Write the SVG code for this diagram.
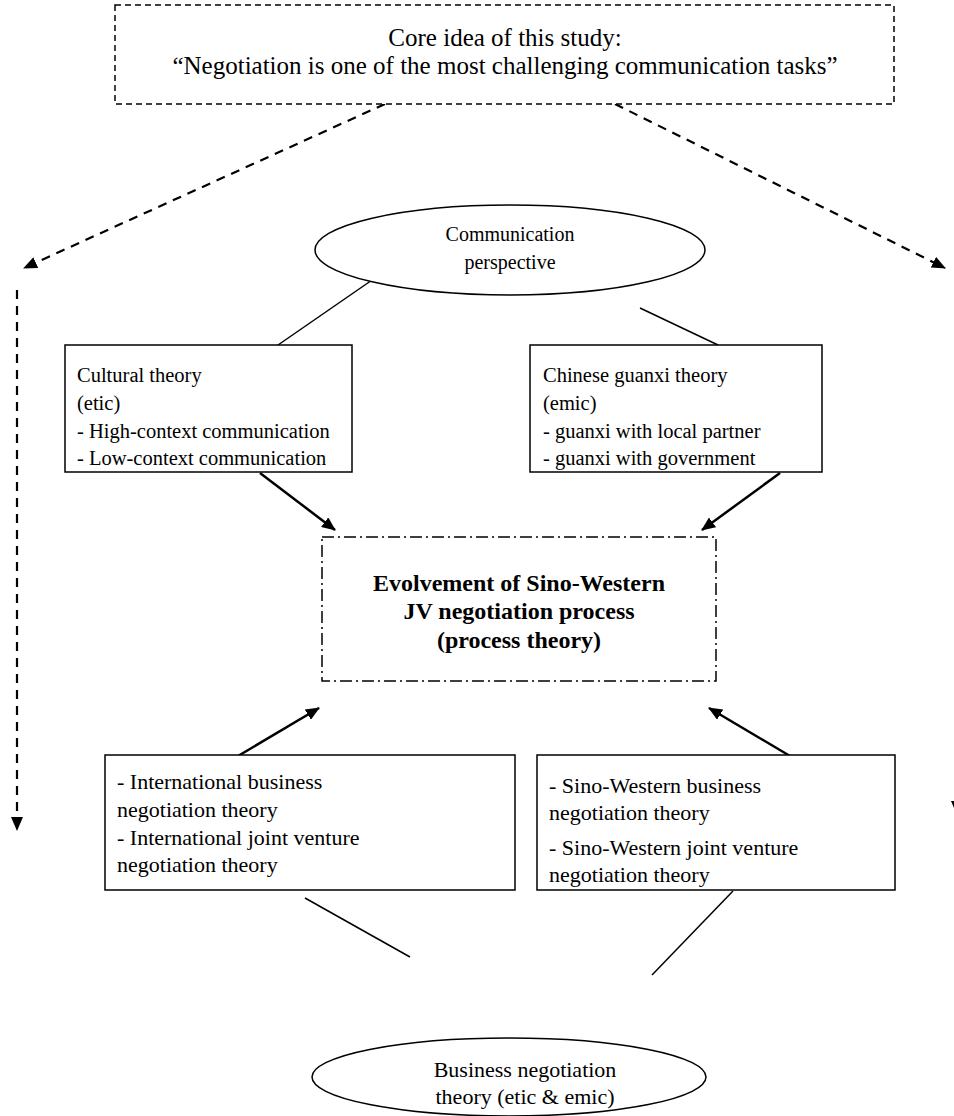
<svg xmlns="http://www.w3.org/2000/svg" width="954" height="1116" viewBox="0 0 954 1116">
  <style>
    text { font-family: "Liberation Serif", "Times New Roman", serif; font-size: 20px; fill: #000; }
    .mid { text-anchor: middle; }
    .core { font-size: 25px; }
    .upper { font-size: 20.5px; }
    .lower { font-size: 22px; }
    .bold { font-weight: bold; font-size: 24px; }
    .oval2 { font-size: 22px; }
    .box { fill: #fff; stroke: #000; stroke-width: 1.5; }
    .dashbox { fill: #fff; stroke: #000; stroke-width: 1.5; stroke-dasharray: 6 4; }
    .dashdot { fill: #fff; stroke: #000; stroke-width: 1.5; stroke-dasharray: 12 4 2 4; }
    .link { stroke: #000; stroke-width: 1.5; fill: none; }
    .arrow { stroke: #000; stroke-width: 2.5; fill: none; marker-end: url(#head); }
    .dasharrow { stroke: #000; stroke-width: 2.2; fill: none; stroke-dasharray: 9 7; marker-end: url(#head); }
  </style>
  <defs>
    <!-- filled triangular arrowhead, tip at the line end -->
    <marker id="head" viewBox="0 0 14 12" refX="13" refY="6" markerWidth="14" markerHeight="12" markerUnits="userSpaceOnUse" orient="auto">
      <path d="M0,0 L14,6 L0,12 z" fill="#000"/>
    </marker>
  </defs>
  <rect width="954" height="1116" fill="#fff"/>

  <g id="connectors">
    <line class="dasharrow" x1="385" y1="104" x2="24" y2="268"/>
    <line class="dasharrow" x1="615" y1="104" x2="945" y2="268"/>
    <line class="dasharrow" x1="17" y1="290" x2="17" y2="830"/>
    <line class="dasharrow" x1="957" y1="290" x2="957" y2="814"/>
    <line class="link" x1="375" y1="278" x2="278" y2="345"/>
    <line class="link" x1="640" y1="308" x2="718" y2="345"/>
    <line class="arrow" x1="260" y1="473" x2="335" y2="530"/>
    <line class="arrow" x1="780" y1="473" x2="702" y2="530"/>
    <line class="arrow" x1="238" y1="756" x2="319" y2="708"/>
    <line class="arrow" x1="790" y1="756" x2="709" y2="708"/>
    <line class="link" x1="305" y1="898" x2="410" y2="957"/>
    <line class="link" x1="733" y1="891" x2="652" y2="975"/>
  </g>

  <g id="core-idea">
    <rect class="dashbox" x="115" y="5" width="779" height="99"/>
    <text class="mid core" x="505" y="46">Core idea of this study:</text>
    <text class="mid core" x="505" y="74">“Negotiation is one of the most challenging communication tasks”</text>
  </g>

  <g id="communication-perspective">
    <ellipse class="box" cx="510" cy="250" rx="195" ry="45"/>
    <text class="mid" x="510" y="241">Communication</text>
    <text class="mid" x="510" y="269">perspective</text>
  </g>

  <g id="cultural-theory">
    <rect class="box" x="65" y="345" width="287" height="127"/>
    <text class="upper" x="77" y="382">Cultural theory</text>
    <text class="upper" x="77" y="410">(etic)</text>
    <text class="upper" x="77" y="438">- High-context communication</text>
    <text class="upper" x="77" y="465">- Low-context communication</text>
  </g>

  <g id="guanxi-theory">
    <rect class="box" x="530" y="345" width="292" height="127"/>
    <text class="upper" x="543" y="382">Chinese guanxi theory</text>
    <text class="upper" x="543" y="410">(emic)</text>
    <text class="upper" x="543" y="438">- guanxi with local partner</text>
    <text class="upper" x="543" y="465">- guanxi with government</text>
  </g>

  <g id="process-theory">
    <rect class="dashdot" x="322" y="537" width="394" height="144"/>
    <text class="mid bold" x="519" y="591">Evolvement of Sino-Western</text>
    <text class="mid bold" x="519" y="619">JV negotiation process</text>
    <text class="mid bold" x="519" y="648">(process theory)</text>
  </g>

  <g id="international-theory">
    <rect class="box" x="105" y="755" width="410" height="135"/>
    <text class="lower" x="117" y="789">- International business</text>
    <text class="lower" x="117" y="817">negotiation theory</text>
    <text class="lower" x="117" y="845">- International joint venture</text>
    <text class="lower" x="117" y="872">negotiation theory</text>
  </g>

  <g id="sino-western-theory">
    <rect class="box" x="537" y="755" width="358" height="135"/>
    <text class="lower" x="549" y="793">- Sino-Western business</text>
    <text class="lower" x="549" y="820">negotiation theory</text>
    <text class="lower" x="549" y="855">- Sino-Western joint venture</text>
    <text class="lower" x="549" y="882">negotiation theory</text>
  </g>

  <g id="business-negotiation">
    <ellipse class="box" cx="509" cy="1077" rx="197" ry="39"/>
    <text class="mid oval2" x="525" y="1077">Business negotiation</text>
    <text class="mid oval2" x="525" y="1104">theory (etic &amp; emic)</text>
  </g>
</svg>
